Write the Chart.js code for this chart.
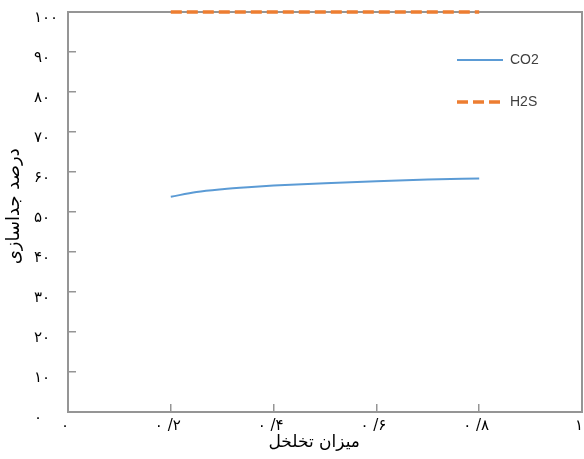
<!DOCTYPE html>
<html>
<head>
<meta charset="utf-8">
<script src="https://cdn.jsdelivr.net/npm/chart.js@4/dist/chart.umd.min.js"></script>
<style>
  html, body { margin: 0; padding: 0; background: #fff; }
  canvas { display: block; }
</style>
</head>
<body>
<canvas id="sepChart" width="584" height="459"></canvas>
<script>
// porosity on x, separation percent on y
const porosity = [0.2, 0.25, 0.3, 0.35, 0.4, 0.5, 0.6, 0.7, 0.8];
const co2Values = [53.8, 55.0, 55.7, 56.2, 56.6, 57.2, 57.7, 58.1, 58.4];
const h2sValues = [100, 100, 100, 100, 100, 100, 100, 100, 100];

const xTickLabels = ["۰", "۰ /۲", "۰ /۴", "۰ /۶", "۰ /۸", "۱"];
const yTickLabels = ["۰", "۱۰", "۲۰", "۳۰", "۴۰", "۵۰", "۶۰", "۷۰", "۸۰", "۹۰", "۱۰۰"];

const axisGrey = "#959595";
const faFont = "'DejaVu Sans', sans-serif";

function toPoints(values) {
  return porosity.map((x, i) => ({ x: x, y: values[i] }));
}

// legend sits inside the plot, near the top right
const legendSpot = {
  id: "legendSpot",
  afterLayout(chart) {
    const lg = chart.legend;
    const w = lg.width, h = lg.height;
    lg.left = 429;
    lg.top = 25;
    lg.right = lg.left + w;
    lg.bottom = lg.top + h;
  }
};

const ctx = document.getElementById("sepChart").getContext("2d");
const chart = new Chart(ctx, {
  type: "line",
  data: {
    datasets: [
      {
        label: "CO2",
        data: toPoints(co2Values),
        xAxisID: "x",
        yAxisID: "y",
        borderColor: "#5B9BD5",
        backgroundColor: "#5B9BD5",
        borderWidth: 2,
        pointRadius: 0,
        clip: 5,
        cubicInterpolationMode: "monotone"
      },
      {
        label: "H2S",
        data: toPoints(h2sValues),
        xAxisID: "x",
        yAxisID: "y",
        borderColor: "#ED7D31",
        backgroundColor: "#ED7D31",
        borderWidth: 3.5,
        borderDash: [11, 5],
        pointRadius: 0,
        clip: 5
      }
    ]
  },
  options: {
    responsive: false,
    animation: false,
    layout: { padding: { top: 11, right: 2, bottom: 0, left: 0 } },
    plugins: {
      tooltip: { enabled: false },
      legend: {
        position: "chartArea",
        align: "start",
        labels: {
          usePointStyle: true,
          pointStyle: "line",
          pointStyleWidth: 46,
          boxHeight: 14,
          padding: 28,
          color: "#404040",
          font: { family: "'Liberation Sans', sans-serif", size: 14 },
          generateLabels(chart) {
            const items = Chart.defaults.plugins.legend.labels.generateLabels(chart);
            items.forEach(item => {
              const ds = chart.data.datasets[item.datasetIndex];
              item.lineDash = ds.borderDash || [];
              item.lineWidth = ds.borderWidth;
              item.strokeStyle = ds.borderColor;
            });
            return items;
          }
        }
      }
    },
    scales: {
      x: {
        type: "linear",
        position: "bottom",
        min: 0,
        max: 1,
        grid: { drawOnChartArea: false, tickLength: -8, color: axisGrey, lineWidth: 1.5 },
        border: { color: axisGrey, width: 2 },
        ticks: {
          stepSize: 0.2,
          autoSkip: false,
          maxRotation: 0,
          padding: 13,
          labelOffset: -3,
          color: "#000",
          font: { family: faFont, size: 15 },
          callback: (v, i) => xTickLabels[i]
        },
        title: {
          display: true,
          text: "میزان تخلخل    ",
          color: "#000",
          font: { family: faFont, size: 17 },
          padding: { top: 0, bottom: 6 }
        },
        afterFit(s) {
          s.height = 47;
          s.paddingLeft = 0;
          s.paddingRight = 0;
        }
      },
      x2: {
        type: "linear",
        position: "top",
        grid: { drawOnChartArea: false, drawTicks: false },
        border: { color: axisGrey, width: 2 },
        ticks: { display: false },
        afterFit(s) { s.height = 0; }
      },
      y: {
        type: "linear",
        position: "left",
        weight: 0,
        min: 0,
        max: 100,
        grid: { drawOnChartArea: false, tickLength: -8, color: axisGrey, lineWidth: 1.5 },
        border: { color: axisGrey, width: 2 },
        ticks: {
          stepSize: 10,
          crossAlign: "far",
          labelOffset: 6,
          color: "#000",
          font: { family: faFont, size: 15 },
          callback: (v, i) => yTickLabels[i]
        },
        afterFit(s) { s.width = 34; }
      },
      yt: {
        type: "linear",
        position: "left",
        weight: 5,
        grid: { display: false, drawTicks: false },
        border: { display: false },
        ticks: { display: false },
        title: {
          display: true,
          text: "  درصد جداسازی",
          color: "#000",
          font: { family: faFont, size: 18 },
          padding: { top: 4, bottom: 0 }
        },
        afterFit(s) { s.width = 34; }
      },
      y2: {
        type: "linear",
        position: "right",
        grid: { drawOnChartArea: false, drawTicks: false },
        border: { color: axisGrey, width: 2 },
        ticks: { display: false },
        afterFit(s) { s.width = 0; }
      }
    }
  },
  plugins: [legendSpot]
});
</script>
</body>
</html>
